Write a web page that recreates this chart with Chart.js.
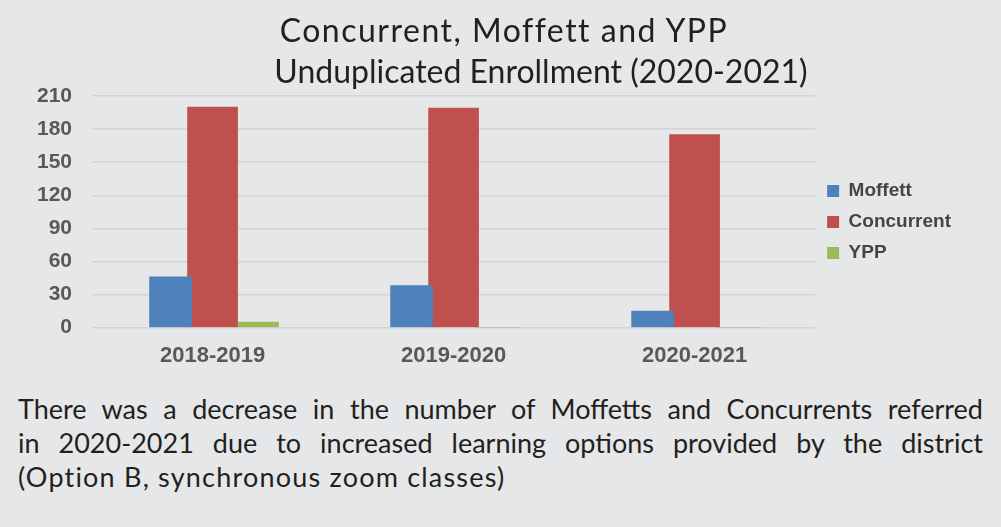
<!DOCTYPE html>
<html>
<head>
<meta charset="utf-8">
<script src="https://cdn.jsdelivr.net/npm/chart.js@4/dist/chart.umd.min.js"></script>
<style>
  html, body { margin: 0; padding: 0; }
  body { width: 1001px; height: 527px; background: #e6e7e8; position: relative; overflow: hidden; }
  .ttl { position: absolute; width: 800px; text-align: center; white-space: nowrap;
    font-family: Lato, sans-serif; font-size: 32px; line-height: 41px; color: #231f20; }
  #chartBox { position: absolute; left: 0; top: 0; width: 1001px; height: 386px; }
  .cap { position: absolute; left: 18px; width: 965px; font-family: Lato, sans-serif;
    font-size: 27px; letter-spacing: 1.2px; color: #231f20; white-space: nowrap; }
  .just { text-align: justify; text-align-last: justify; white-space: normal; letter-spacing: 0; }
</style>
</head>
<body>
<div id="chartBox"><canvas id="enrollChart"></canvas></div>
<div class="ttl" style="left:104px; top:9px; letter-spacing:1.5px">Concurrent, Moffett and YPP</div>
<div class="ttl" style="left:141px; top:50px">Unduplicated Enrollment (2020-2021)</div>
<div class="cap just" style="top:392px">There was a decrease in the number of Moffetts and Concurrents referred</div>
<div class="cap just" style="top:426px">in 2020-2021 due to increased learning options provided by the district</div>
<div class="cap" style="top:460px">(Option B, synchronous zoom classes)</div>

<script>
// chart data
const years = ['2018-2019', '2019-2020', '2020-2021'];
const moffett = [46, 38, 15];
const concurrent = [200, 199, 175];
const ypp = [5, 0, 0];
const yTicks = [0, 30, 60, 90, 120, 150, 180, 210];

const arialBold = { family: 'Liberation Sans, Arial, sans-serif', weight: 'bold' };

new Chart(document.getElementById('enrollChart'), {
  type: 'bar',
  data: {
    labels: years,
    datasets: [
      { label: 'Moffett', data: moffett, backgroundColor: '#4f81bd', barThickness: 42 },
      { label: 'Concurrent', data: concurrent, backgroundColor: '#c0504d', barThickness: 50 },
      { label: 'YPP', data: ypp, backgroundColor: '#9bbb59', barThickness: 44 }
    ]
  },
  options: {
    responsive: true,
    maintainAspectRatio: false,
    animation: false,
    layout: { padding: { top: 96, left: 17, right: 40, bottom: 10 } },
    plugins: {
      title: { display: false },
      tooltip: { enabled: false },
      legend: {
        position: 'right',
        fullSize: false,
        // empty title only nudges the items down a little
        title: { display: true, text: ' ', font: { size: 12 }, padding: { top: 3, bottom: 3 } },
        labels: {
          boxWidth: 12, boxHeight: 12, padding: 12,
          color: '#454545',
          font: { ...arialBold, size: 19 }
        }
      }
    },
    scales: {
      x: {
        grid: { display: false },
        border: { display: false },
        ticks: { color: '#595959', font: { ...arialBold, size: 22 }, padding: 7 }
      },
      y: {
        min: 0,
        max: 210,
        afterBuildTicks: axis => { axis.ticks = yTicks.map(v => ({ value: v })); },
        grid: { color: '#d3d4d6', lineWidth: 1.5, drawTicks: false },
        border: { display: false },
        ticks: { color: '#595959', font: { ...arialBold, size: 21 }, padding: 20 }
      }
    }
  }
});
</script>
</body>
</html>
